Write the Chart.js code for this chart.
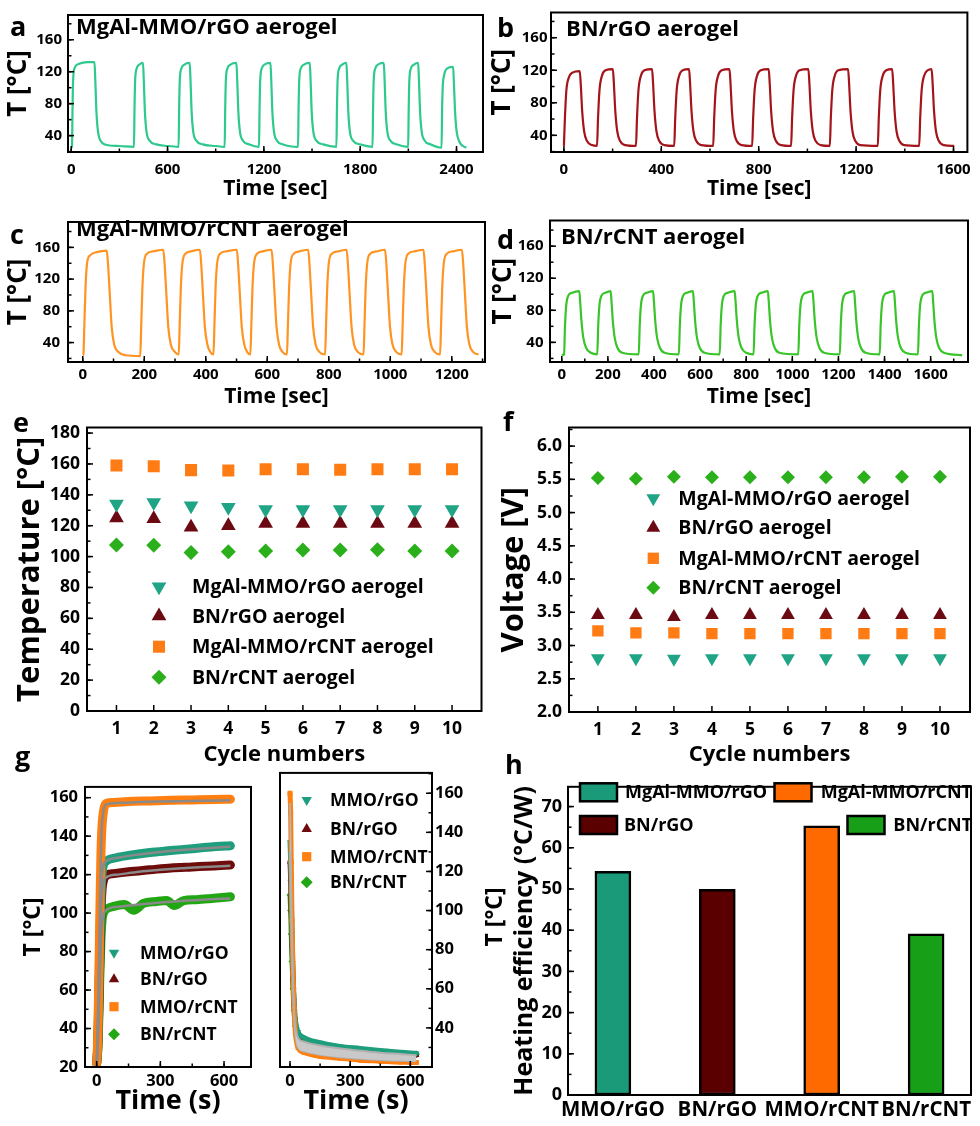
<!DOCTYPE html>
<html><head><meta charset="utf-8">
<script src="https://cdn.jsdelivr.net/npm/chart.js@4/dist/chart.umd.min.js"></script>
<style>
body{margin:0;background:#fff;}
#wrap{position:relative;width:980px;height:1126px;overflow:hidden;font-family:"Open Sans",sans-serif;font-weight:700;color:#000;}
canvas{position:absolute;}
.lbl{position:absolute;line-height:1;white-space:nowrap;font-weight:700;color:#000;}
</style></head><body><div id="wrap">
<canvas id="ca" width="490" height="205" style="left:0;top:0"></canvas>
<canvas id="cb" width="490" height="205" style="left:490px;top:0"></canvas>
<canvas id="cc" width="490" height="205" style="left:0;top:205px"></canvas>
<canvas id="cd" width="490" height="205" style="left:490px;top:205px"></canvas>
<canvas id="ce" width="490" height="360" style="left:0;top:410px"></canvas>
<canvas id="cf" width="490" height="360" style="left:490px;top:410px"></canvas>
<canvas id="cg1" width="262" height="356" style="left:0;top:770px"></canvas>
<canvas id="cg2" width="238" height="366" style="left:262px;top:760px"></canvas>
<canvas id="ch" width="480" height="356" style="left:500px;top:770px"></canvas>
<div class="lbl" style="left:10px;top:12px;font-size:27px">a</div>
<div class="lbl" style="left:497px;top:13px;font-size:27px">b</div>
<div class="lbl" style="left:10px;top:220px;font-size:27px">c</div>
<div class="lbl" style="left:497px;top:225px;font-size:27px">d</div>
<div class="lbl" style="left:13px;top:408px;font-size:27px">e</div>
<div class="lbl" style="left:503px;top:407px;font-size:27px">f</div>
<div class="lbl" style="left:15px;top:742px;font-size:27px">g</div>
<div class="lbl" style="left:505px;top:750px;font-size:27px">h</div>
<div class="lbl" style="left:76px;top:14px;font-size:22px">MgAl-MMO/rGO aerogel</div>
<div class="lbl" style="left:566px;top:16px;font-size:22px">BN/rGO aerogel</div>
<div class="lbl" style="left:76px;top:216px;font-size:22px">MgAl-MMO/rCNT aerogel</div>
<div class="lbl" style="left:561px;top:224px;font-size:22px">BN/rCNT aerogel</div>
<div class="lbl" style="left:493px;top:917px;font-size:23px;transform:translate(-50%,-50%) rotate(-90deg)">T [°C]</div>
</div>
<script>
// ---------------- DATA ----------------
const tYTicks = [40, 80, 120, 160];
const aXTicks = [0, 600, 1200, 1800, 2400];
const bXTicks = [0, 400, 800, 1200, 1600];
const cXTicks = [0, 200, 400, 600, 800, 1000, 1200];
const dXTicks = [0, 200, 400, 600, 800, 1000, 1200, 1400, 1600];

// panel a: MgAl-MMO/rGO aerogel cycling (time s, T °C)
const aCurve = [[0,25],[5,26],[8,70],[12,110],[22,125],[50,130],[100,132],[145,132],[150,110],[157,70],[167,45],[185,33],[230,28],[300,27],[391,26],
[394,70],[398,108],[408,124],[425,129],[447,131],[452,110],[459,70],[469,45],[487,34],[530,29],[600,27],[669,26],
[672,70],[676,108],[686,124],[705,129],[738,131],[743,110],[750,70],[760,45],[778,34],[820,29],[900,27],[956,26],
[959,70],[963,108],[973,124],[992,129],[1029,131],[1034,110],[1041,70],[1051,45],[1069,34],[1110,29],[1170,26],
[1173,70],[1177,108],[1187,124],[1205,129],[1241,131],[1246,110],[1253,70],[1263,45],[1281,34],[1320,29],[1413,26],
[1416,70],[1420,108],[1430,124],[1450,129],[1486,131],[1491,110],[1498,70],[1508,45],[1526,34],[1570,29],[1652,26],
[1655,70],[1659,108],[1669,124],[1688,129],[1714,131],[1719,110],[1726,70],[1736,45],[1754,34],[1800,29],[1877,26],
[1880,70],[1884,108],[1894,124],[1912,129],[1947,131],[1952,110],[1959,70],[1969,45],[1987,34],[2030,29],[2099,26],
[2102,70],[2106,108],[2116,124],[2135,129],[2161,131],[2166,110],[2173,70],[2183,45],[2201,34],[2240,29],[2307,25],
[2310,70],[2314,100],[2322,115],[2340,124],[2379,126],[2384,105],[2391,70],[2401,45],[2419,32],[2440,27],[2462,25]];

// panel b: BN/rGO aerogel
const bCurve = [[0,27],[4,60],[10,95],[20,111],[35,117],[65,119],[69,104],[75,70],[83,45],[95,33],[115,28],[136,27],
[140,60],[146,95],[156,113],[171,120],[201,121.5],[205,105],[211,70],[219,45],[231,33],[251,28],[296,27],
[300,60],[306,95],[316,113],[331,120],[362,121.5],[366,105],[372,70],[380,45],[392,33],[412,28],[453,27],
[457,60],[463,95],[473,113],[488,120],[514,121.5],[518,105],[524,70],[532,45],[544,33],[564,28],[613,27],
[617,60],[623,95],[633,113],[648,120],[680,121.5],[684,105],[690,70],[698,45],[710,33],[730,28],[773,27],
[777,60],[783,95],[793,113],[808,120],[841,121.5],[845,105],[851,70],[859,45],[871,33],[891,28],[933,27],
[937,60],[943,95],[953,113],[968,120],[1004,121.5],[1008,105],[1014,70],[1022,45],[1034,33],[1054,28],[1092,27],
[1096,60],[1102,95],[1112,113],[1127,120],[1167,121.5],[1171,105],[1177,70],[1185,45],[1197,33],[1217,28],[1289,27],
[1293,60],[1299,95],[1309,113],[1324,120],[1348,121.5],[1352,105],[1358,70],[1366,45],[1378,33],[1398,28],[1459,27],
[1463,60],[1469,95],[1479,113],[1494,120],[1510,121.5],[1514,105],[1520,70],[1528,45],[1540,33],[1560,28],[1603,27]];

// panel c: MgAl-MMO/rCNT aerogel
const cCurve = [[0,24],[2,25],[5,60],[9,110],[14,140],[24,150],[45,154],[78,156],[82,140],[88,100],[94,60],[102,38],[116,28],[140,24],[187,23],
[190,60],[194,110],[199,140],[209,152],[229,155],[262,157],[266,140],[272,100],[278,60],[286,38],[300,28],[312,25],
[315,60],[319,110],[324,140],[334,152],[352,155],[381,157],[385,140],[391,100],[397,60],[405,38],[415,28],[425,25],
[428,60],[432,110],[437,140],[447,152],[467,155],[501,157],[505,140],[511,100],[517,60],[525,38],[535,28],[545,25],
[548,60],[552,110],[557,140],[567,152],[585,155],[614,157],[618,140],[624,100],[630,60],[638,38],[650,28],[664,25],
[667,60],[671,110],[676,140],[686,152],[705,155],[733,157],[737,140],[743,100],[749,60],[757,38],[770,28],[788,25],
[791,60],[795,110],[800,140],[810,152],[830,155],[858,157],[862,140],[868,100],[874,60],[882,38],[895,28],[913,25],
[916,60],[920,110],[925,140],[935,152],[955,155],[983,157],[987,140],[993,100],[999,60],[1007,38],[1020,28],[1037,25],
[1040,60],[1044,110],[1049,140],[1059,152],[1079,155],[1108,157],[1112,140],[1118,100],[1124,60],[1132,38],[1145,28],[1162,25],
[1165,60],[1169,110],[1174,140],[1184,152],[1204,155],[1233,157],[1237,140],[1243,100],[1249,60],[1257,38],[1270,28],[1287,25]];

// panel d: BN/rCNT aerogel
const dCurve = [[0,24],[10,25],[14,60],[19,85],[28,98],[45,102],[76,104],[80,90],[86,65],[94,45],[106,33],[126,27],[154,25],
[158,60],[163,85],[172,98],[189,102],[212,104],[216,90],[222,65],[230,45],[242,33],[262,27],[334,25],
[338,60],[343,85],[352,98],[369,102],[396,104],[400,90],[406,65],[414,45],[426,33],[446,27],[508,25],
[512,60],[517,85],[526,98],[543,102],[569,104],[573,90],[579,65],[587,45],[599,33],[619,27],[685,25],
[689,60],[694,85],[703,98],[720,102],[750,104],[754,90],[760,65],[768,45],[780,33],[800,27],[832,25],
[836,60],[841,85],[850,98],[867,102],[894,104],[898,90],[904,65],[912,45],[924,33],[944,27],[1026,25],
[1030,60],[1035,85],[1044,98],[1061,102],[1088,104],[1092,90],[1098,65],[1106,45],[1118,33],[1138,27],[1206,25],
[1210,60],[1215,85],[1224,98],[1241,102],[1268,104],[1272,90],[1278,65],[1286,45],[1298,33],[1318,27],[1379,25],
[1383,60],[1388,85],[1397,98],[1414,102],[1441,104],[1445,90],[1451,65],[1459,45],[1471,33],[1491,27],[1545,25],
[1549,60],[1554,85],[1563,98],[1580,102],[1607,104],[1611,90],[1617,65],[1625,45],[1637,33],[1657,27],[1737,24]];

// panels e, f
const cycles = [1, 2, 3, 4, 5, 6, 7, 8, 9, 10];
const eYTicks = [0, 20, 40, 60, 80, 100, 120, 140, 160, 180];
const eMmoRgo  = [134, 135, 133, 132, 130.5, 130.5, 130.5, 130.5, 130.5, 130.5];
const eBnRgo   = [125, 124.5, 119, 120, 121.5, 121.5, 121.5, 121.5, 121.5, 121.5];
const eMmoRcnt = [159, 158.5, 156, 155.8, 156.5, 156.5, 156.3, 156.5, 156.5, 156.5];
const eBnRcnt  = [107.5, 107.3, 102.7, 103.1, 103.7, 104.2, 104.2, 104.4, 103.7, 103.7];
const fYTicks = [2.0, 2.5, 3.0, 3.5, 4.0, 4.5, 5.0, 5.5, 6.0];
const fMmoRgo  = [2.81, 2.81, 2.80, 2.81, 2.81, 2.81, 2.81, 2.81, 2.81, 2.81];
const fBnRgo   = [3.46, 3.46, 3.43, 3.46, 3.46, 3.46, 3.46, 3.46, 3.46, 3.46];
const fMmoRcnt = [3.22, 3.19, 3.19, 3.18, 3.18, 3.18, 3.18, 3.18, 3.18, 3.18];
const fBnRcnt  = [5.52, 5.51, 5.54, 5.53, 5.53, 5.53, 5.53, 5.53, 5.54, 5.54];
const efLegend = ['MgAl-MMO/rGO aerogel', 'BN/rGO aerogel', 'MgAl-MMO/rCNT aerogel', 'BN/rCNT aerogel'];

// panel g: heating (left) and cooling (right)
const gXTicks = [0, 300, 600];
const gYTicks = [20, 40, 60, 80, 100, 120, 140, 160];
const gRYTicks = [40, 60, 80, 100, 120, 140, 160];
const gLegend = ['MMO/rGO', 'BN/rGO', 'MMO/rCNT', 'BN/rCNT'];
const gHeatMmoRgo = [[0,22],[5,32],[10,55],[15,85],[20,108],[25,120],[32,125],[45,127],[80,128.5],[150,130],[250,131.5],[350,132.5],[450,133.5],[550,134.5],[630,135]];
const gHeatBnRgo = [[0,22],[5,30],[10,50],[15,78],[20,100],[25,112],[32,117],[45,119.5],[80,120.5],[150,121.5],[250,122.5],[350,123.5],[450,124],[550,124.5],[630,125]];
const gHeatMmoRcnt = [[0,22],[5,35],[10,65],[15,100],[20,130],[25,145],[32,153],[45,157],[80,157.5],[150,158],[250,158.3],[350,158.6],[450,158.8],[550,159],[630,159.2]];
const gHeatBnRcnt = [[0,22],[5,28],[10,45],[15,68],[20,86],[25,96],[32,100],[45,102],[80,103.5],[130,104.5],[175,101.5],[220,105],[280,106],[330,106.5],[365,104],[410,106.5],[470,107],[530,107.5],[580,108],[630,108.5]];
const gHeatFitMmoRgo = [[0,20],[8,50],[15,90],[22,115],[30,124],[45,127],[100,128.8],[200,130.5],[300,131.8],[400,132.8],[500,133.6],[630,134.5]];
const gHeatFitBnRgo = [[0,20],[8,45],[15,80],[22,105],[30,115],[45,118.5],[100,120],[200,121.5],[300,122.5],[400,123.3],[500,124],[630,124.6]];
const gHeatFitMmoRcnt = [[0,20],[8,55],[15,105],[22,140],[30,152],[45,156.5],[100,157.3],[200,157.7],[300,158],[400,158.2],[500,158.4],[630,158.6]];
const gHeatFitBnRcnt = [[0,20],[8,42],[15,70],[22,90],[30,98],[45,101.5],[100,103.3],[200,104.5],[300,105.5],[400,106.3],[500,107],[630,107.6]];
const gCoolMmoRgo = [[0,135],[3,125],[6,108],[10,88],[15,68],[20,54],[27,44],[40,38],[70,35],[150,32.5],[250,30.5],[350,29.5],[450,28.5],[550,27.5],[630,27]];
const gCoolBnRgo = [[0,125],[3,116],[6,100],[10,83],[15,65],[20,52],[27,42],[40,35],[70,32],[150,30],[250,28.5],[350,27.5],[450,26.8],[550,26.2],[630,26]];
const gCoolMmoRcnt = [[0,160],[3,150],[6,125],[10,95],[15,68],[20,50],[27,37],[40,30],[70,27.5],[150,25.5],[250,24.5],[350,23.5],[450,23],[550,22.5],[630,22.3]];
const gCoolBnRcnt = [[0,108],[3,100],[6,88],[10,74],[15,60],[20,49],[27,41],[40,36],[70,33],[150,31],[250,29.5],[350,28.5],[450,27.5],[550,27],[630,26.5]];
const gCoolFitUpper = [[0,130],[5,100],[10,78],[15,60],[20,48],[27,40],[40,35],[70,33],[150,31],[250,29.5],[350,28.3],[450,27.3],[550,26.6],[630,26]];
const gCoolFitLower = [[0,155],[5,118],[10,88],[15,63],[20,47],[27,36],[40,30],[70,28],[150,26.2],[250,25],[350,24.2],[450,23.6],[550,23.2],[630,23]];

// panel h
const hCats = ['MMO/rGO', 'BN/rGO', 'MMO/rCNT', 'BN/rCNT'];
const hValues = [54.3, 49.9, 65.3, 39.1];
const hYTicks = [0, 10, 20, 30, 40, 50, 60, 70];
const hLegend = ['MgAl-MMO/rGO', 'MgAl-MMO/rCNT', 'BN/rGO', 'BN/rCNT'];

// ---------------- STYLE ----------------
const COL = { teal: '#1fa485', maroon: '#6b0a12', orange: '#ff7b14', green: '#2bb01c' };
const GCOL = { teal: '#1f9e7e', maroon: '#6e0b0b', orange: '#ff7f10', green: '#22a614' };
const HCOL = ['#1a9a78', '#5a0000', '#ff6a00', '#17a017'];
Chart.defaults.font.family = '"Open Sans", sans-serif';
Chart.defaults.font.weight = 'bold';
Chart.defaults.color = '#000';

const pts = arr => arr.map(([x, y]) => ({ x, y }));
const zipc = ys => cycles.map((c, i) => ({ x: c, y: ys[i] }));

function ax(dir, o) {
  return {
    type: 'linear', position: o.pos || (dir === 'x' ? 'bottom' : 'left'),
    min: o.min, max: o.max, offset: false,
    grid: { display: false, drawTicks: false }, border: { display: false },
    afterBuildTicks: s => { s.ticks = o.ticks.map(v => ({ value: v })); },
    afterFit: s => { if (dir === 'x') s.height = o.size; else s.width = o.size; },
    ticks: { autoSkip: false, maxRotation: 0, minRotation: 0, padding: o.pad, color: '#000',
      font: { size: o.fs, weight: 'bold', lineHeight: 1.2 },
      callback: o.fmt || (v => String(v)) },
    title: o.title ? { display: true, text: o.title, color: '#000',
      font: { size: o.tfs, weight: 'bold', lineHeight: 1 },
      padding: dir === 'x' ? { top: 0, bottom: o.tpad } : { top: o.tpad, bottom: 0 } } : { display: false }
  };
}

function frameTicks(cfg) {
  return { id: 'frameTicks', afterDatasetsDraw(chart) {
    const ctx = chart.ctx, a = chart.chartArea;
    ctx.save(); ctx.strokeStyle = '#000'; ctx.lineWidth = 1.5;
    ['x', 'y'].forEach(id => {
      const o = cfg[id]; if (!o) return;
      const s = chart.scales[id];
      const marks = s.ticks.map(t => [t.value, 6]);
      if (o.minor) for (let v = Math.ceil(s.min / o.minor) * o.minor; v <= s.max + 1e-9; v += o.minor) marks.push([v, 3.5]);
      marks.forEach(([v, len]) => {
        const p = s.getPixelForValue(v);
        ctx.beginPath();
        if (id === 'x') { ctx.moveTo(p, a.bottom); ctx.lineTo(p, a.bottom - len); }
        else if (s.position === 'right') { ctx.moveTo(a.right, p); ctx.lineTo(a.right - len, p); }
        else { ctx.moveTo(a.left, p); ctx.lineTo(a.left + len, p); }
        ctx.stroke();
      });
    });
    ctx.lineWidth = 2;
    ctx.strokeRect(a.left, a.top, a.right - a.left, a.bottom - a.top);
    ctx.restore();
  } };
}

function drawMarker(ctx, style, rot, r, x, y) {
  ctx.beginPath();
  if (style === 'triangle') {
    let rad = rot * Math.PI / 180;
    for (let k = 0; k < 3; k++) {
      const px = x + Math.sin(rad) * r, py = y - Math.cos(rad) * r;
      if (k) ctx.lineTo(px, py); else ctx.moveTo(px, py);
      rad += 2 * Math.PI / 3;
    }
    ctx.closePath();
  } else if (style === 'rect') {
    const s = r * Math.SQRT1_2; ctx.rect(x - s, y - s, 2 * s, 2 * s);
  } else {
    ctx.moveTo(x - r, y); ctx.lineTo(x, y - r); ctx.lineTo(x + r, y); ctx.lineTo(x, y + r); ctx.closePath();
  }
  ctx.fill();
}
function legendMarks(items, font) {
  return { id: 'legendMarks', afterDraw(chart) {
    const ctx = chart.ctx; ctx.save();
    ctx.font = font; ctx.textBaseline = 'middle'; ctx.textAlign = 'left';
    items.forEach(it => {
      ctx.fillStyle = it.color;
      if (it.box) {
        const [w, h] = it.box;
        ctx.fillRect(it.mx - w / 2, it.y - h / 2, w, h);
        ctx.lineWidth = 2.5; ctx.strokeStyle = '#000';
        ctx.strokeRect(it.mx - w / 2, it.y - h / 2, w, h);
      } else drawMarker(ctx, it.style, it.rot || 0, it.r, it.mx, it.y);
      ctx.fillStyle = '#000'; ctx.fillText(it.text, it.tx, it.y + 1);
    });
    ctx.restore();
  } };
}

const baseOpts = (pad, scales, extra) => Object.assign({
  responsive: false, animation: false, events: [],
  layout: { padding: pad },
  plugins: { legend: { display: false }, tooltip: { enabled: false } },
  scales
}, extra || {});

function cycleChart(id, curve, color, xo, yo, pad, minorX) {
  new Chart(document.getElementById(id), {
    type: 'line',
    data: { datasets: [{ data: pts(curve), borderColor: color, borderWidth: 2.2, pointRadius: 0,
      cubicInterpolationMode: 'monotone', fill: false }] },
    options: baseOpts(pad, { x: ax('x', xo), y: ax('y', yo) }),
    plugins: [frameTicks({ x: { minor: minorX }, y: { minor: 20 } })]
  });
}

// ---------------- a-d ----------------
cycleChart('ca', aCurve, '#2ec98c',
  { min: -20, max: 2565, ticks: aXTicks, size: 53, pad: 9, fs: 15, title: 'Time [sec]', tfs: 21, tpad: 5.5 },
  { min: 19.5, max: 191, ticks: tYTicks, size: 68, pad: 6, fs: 15, title: 'T [°C]', tfs: 26, tpad: 5.5 },
  { top: 4, right: 7, left: 0, bottom: 0 }, 300);
cycleChart('cb', bCurve, '#a3151b',
  { min: -53, max: 1657, ticks: bXTicks, size: 53, pad: 9, fs: 15, title: 'Time [sec]', tfs: 21, tpad: 5.5 },
  { min: 19.5, max: 191, ticks: tYTicks, size: 61, pad: 3.5, fs: 15, title: 'T [°C]', tfs: 26, tpad: 0 },
  { top: 4, right: 10, left: 0, bottom: 0 }, 200);
cycleChart('cc', cCurve, '#ff9422',
  { min: -48, max: 1308, ticks: cXTicks, size: 48, pad: 4, fs: 15, title: 'Time [sec]', tfs: 21, tpad: 2.8 },
  { min: 15.5, max: 192, ticks: tYTicks, size: 68, pad: 8, fs: 15, title: 'T [°C]', tfs: 26, tpad: 6 },
  { top: 7, right: 5, left: 0, bottom: 0 }, 100);
cycleChart('cd', dCurve, '#39c42a',
  { min: -51, max: 1762, ticks: dXTicks, size: 48, pad: 4, fs: 15, title: 'Time [sec]', tfs: 21, tpad: 2.8 },
  { min: 15.5, max: 192, ticks: tYTicks, size: 60, pad: 6.5, fs: 15, title: 'T [°C]', tfs: 26, tpad: 0.5 },
  { top: 7, right: 12, left: 0, bottom: 0 }, 100);

// ---------------- e, f ----------------
const mk = (ys, color, style, rot, r) => ({ data: zipc(ys), backgroundColor: color, borderColor: color,
  pointBackgroundColor: color, pointStyle: style, rotation: rot, pointRotation: rot, pointRadius: r, pointBorderWidth: 0, showLine: false });
const legItems = (mx, tx, ys, rs, texts) => [
  { color: COL.teal, style: 'triangle', rot: 180, r: rs[0], mx, tx, y: ys[0], text: texts[0] },
  { color: COL.maroon, style: 'triangle', rot: 0, r: rs[1], mx, tx, y: ys[1], text: texts[1] },
  { color: COL.orange, style: 'rect', r: rs[2], mx, tx, y: ys[2], text: texts[2] },
  { color: COL.green, style: 'rectRot', r: rs[3], mx, tx, y: ys[3], text: texts[3] }];

new Chart(document.getElementById('ce'), {
  type: 'scatter',
  data: { datasets: [
    mk(eMmoRgo, COL.teal, 'triangle', 180, 8.5), mk(eBnRgo, COL.maroon, 'triangle', 0, 8.5),
    mk(eMmoRcnt, COL.orange, 'rect', 0, 8.5), mk(eBnRcnt, COL.green, 'rectRot', 0, 7.5)] },
  options: baseOpts({ top: 7, right: 2, left: 0, bottom: 0 }, {
    x: ax('x', { min: 0.21, max: 10.79, ticks: cycles, size: 59, pad: 7.8, fs: 17.5, title: 'Cycle numbers', tfs: 22, tpad: 4 }),
    y: ax('y', { min: 0, max: 183.6, ticks: eYTicks, size: 87, pad: 7, fs: 17.5, title: 'Temperature [°C]', tfs: 31, tpad: 14.5 })
  }),
  plugins: [frameTicks({ x: {}, y: { minor: 10 } }),
    legendMarks(legItems(159, 192, [176.7, 206, 236.7, 267.3], [8.5, 8.5, 8.5, 7.5], efLegend), 'bold 19.5px "Open Sans", sans-serif')]
});

new Chart(document.getElementById('cf'), {
  type: 'scatter',
  data: { datasets: [
    mk(fMmoRgo, COL.teal, 'triangle', 180, 8), mk(fBnRgo, COL.maroon, 'triangle', 0, 8),
    mk(fMmoRcnt, COL.orange, 'rect', 0, 8), mk(fBnRcnt, COL.green, 'rectRot', 0, 7)] },
  options: baseOpts({ top: 8, right: 10, left: 0, bottom: 0 }, {
    x: ax('x', { min: 0.24, max: 10.79, ticks: cycles, size: 58, pad: 7.8, fs: 17.5, title: 'Cycle numbers', tfs: 22, tpad: 4 }),
    y: ax('y', { min: 2.0, max: 6.28, ticks: fYTicks, size: 79, pad: 7, fs: 17.5, title: 'Voltage [V]', tfs: 31, tpad: 8.5, fmt: v => v.toFixed(1) })
  }),
  plugins: [frameTicks({ x: {}, y: { minor: 0.25 } }),
    legendMarks(legItems(163.3, 188.3, [88.3, 117.7, 148.3, 177.7], [8, 8, 8, 7], efLegend), 'bold 19.5px "Open Sans", sans-serif')]
});

// ---------------- g ----------------
const band = (d, color, style, rot, w) => ({ data: pts(d), borderColor: color, borderWidth: w, pointRadius: 3.5,
  pointBackgroundColor: color, pointBorderWidth: 0, pointStyle: style, pointRotation: rot,
  cubicInterpolationMode: 'monotone', borderJoinStyle: 'round', borderCapStyle: 'round', fill: false, order: 1 });
const fit = (d, color, w) => ({ data: pts(d), borderColor: color, borderWidth: w, pointRadius: 0,
  cubicInterpolationMode: 'monotone', fill: false, order: 0 });
const gLegItems = (mx, tx, ys) => [
  { color: GCOL.teal, style: 'triangle', rot: 180, r: 6, mx, tx, y: ys[0], text: gLegend[0] },
  { color: GCOL.maroon, style: 'triangle', rot: 0, r: 6, mx, tx, y: ys[1], text: gLegend[1] },
  { color: GCOL.orange, style: 'rect', r: 6.5, mx, tx, y: ys[2], text: gLegend[2] },
  { color: GCOL.green, style: 'rectRot', r: 6, mx, tx, y: ys[3], text: gLegend[3] }];

new Chart(document.getElementById('cg1'), {
  type: 'line',
  data: { datasets: [
    fit(gHeatFitMmoRcnt, '#8a8a8a', 2.5), fit(gHeatFitMmoRgo, '#8a8a8a', 2.5),
    fit(gHeatFitBnRgo, '#8a8a8a', 2.5), fit(gHeatFitBnRcnt, '#8a8a8a', 2.5),
    band(gHeatMmoRcnt, GCOL.orange, 'rect', 0, 9), band(gHeatMmoRgo, GCOL.teal, 'triangle', 180, 9),
    band(gHeatBnRgo, GCOL.maroon, 'triangle', 0, 9), band(gHeatBnRcnt, GCOL.green, 'rectRot', 0, 9)] },
  options: baseOpts({ top: 11, right: 11, left: 0, bottom: 0 }, {
    x: ax('x', { min: -55, max: 727, ticks: gXTicks, size: 59, pad: 4.8, fs: 16.5, title: 'Time (s)', tfs: 27, tpad: 10.8 }),
    y: ax('y', { min: 20, max: 165.6, ticks: gYTicks, size: 85, pad: 7, fs: 16.5, title: 'T [°C]', tfs: 23, tpad: 21.5 })
  }),
  plugins: [frameTicks({ x: { minor: 150 }, y: { minor: 10 } }),
    legendMarks(gLegItems(114, 140, [182.7, 209.3, 236.7, 264.3]), 'bold 17.5px "Open Sans", sans-serif')]
});

const coolUpper = Object.assign(fit(gCoolFitUpper, '#b0b0b0', 2), { fill: 1, backgroundColor: '#c9c9c9' });
new Chart(document.getElementById('cg2'), {
  type: 'line',
  data: { datasets: [
    coolUpper, fit(gCoolFitLower, '#b0b0b0', 2),
    band(gCoolMmoRcnt, GCOL.orange, 'rect', 0, 5), band(gCoolMmoRgo, GCOL.teal, 'triangle', 180, 5),
    band(gCoolBnRgo, GCOL.maroon, 'triangle', 0, 5), band(gCoolBnRcnt, GCOL.green, 'rectRot', 0, 5)] },
  options: baseOpts({ top: 8, right: 0, left: 18, bottom: 0 }, {
    x: ax('x', { min: -50, max: 708, ticks: gXTicks, size: 59, pad: 4.8, fs: 16.5, title: 'Time (s)', tfs: 27, tpad: 10.8 }),
    y: ax('y', { pos: 'right', min: 20, max: 170.4, ticks: gRYTicks, size: 68, pad: 3, fs: 16.5 })
  }),
  plugins: [frameTicks({ x: { minor: 150 }, y: { minor: 10 } }),
    legendMarks(gLegItems(44.7, 68, [40, 69, 96.7, 122.3]), 'bold 17.5px "Open Sans", sans-serif')]
});

// ---------------- h ----------------
new Chart(document.getElementById('ch'), {
  type: 'bar',
  data: { datasets: [{ data: hCats.map((c, i) => ({ x: i + 1, y: hValues[i] })), backgroundColor: HCOL,
    borderColor: '#000', borderWidth: 2.5, borderSkipped: false, barThickness: 36 }] },
  options: baseOpts({ top: 2, right: 9, left: 0, bottom: 0 }, {
    x: ax('x', { min: 0.57, max: 4.43, ticks: [1, 2, 3, 4], size: 31, pad: 3, fs: 20.5, fmt: v => hCats[v - 1] }),
    y: ax('y', { min: 0, max: 74.8, ticks: hYTicks, size: 68, pad: 6, fs: 18, title: 'Heating efficiency (°C/W)', tfs: 25, tpad: 12.5 })
  }),
  plugins: [frameTicks({ y: { minor: 5 } }),
    legendMarks([
      { color: HCOL[0], box: [37, 18], mx: 98.5, tx: 125, y: 22.3, text: hLegend[0] },
      { color: HCOL[2], box: [37, 18], mx: 293, tx: 320.7, y: 22.3, text: hLegend[1] },
      { color: HCOL[1], box: [37, 18], mx: 98.5, tx: 124, y: 55, text: hLegend[2] },
      { color: HCOL[3], box: [37, 18], mx: 366, tx: 393.3, y: 55, text: hLegend[3] }], 'bold 18px "Open Sans", sans-serif')]
});
</script>
</body></html>
